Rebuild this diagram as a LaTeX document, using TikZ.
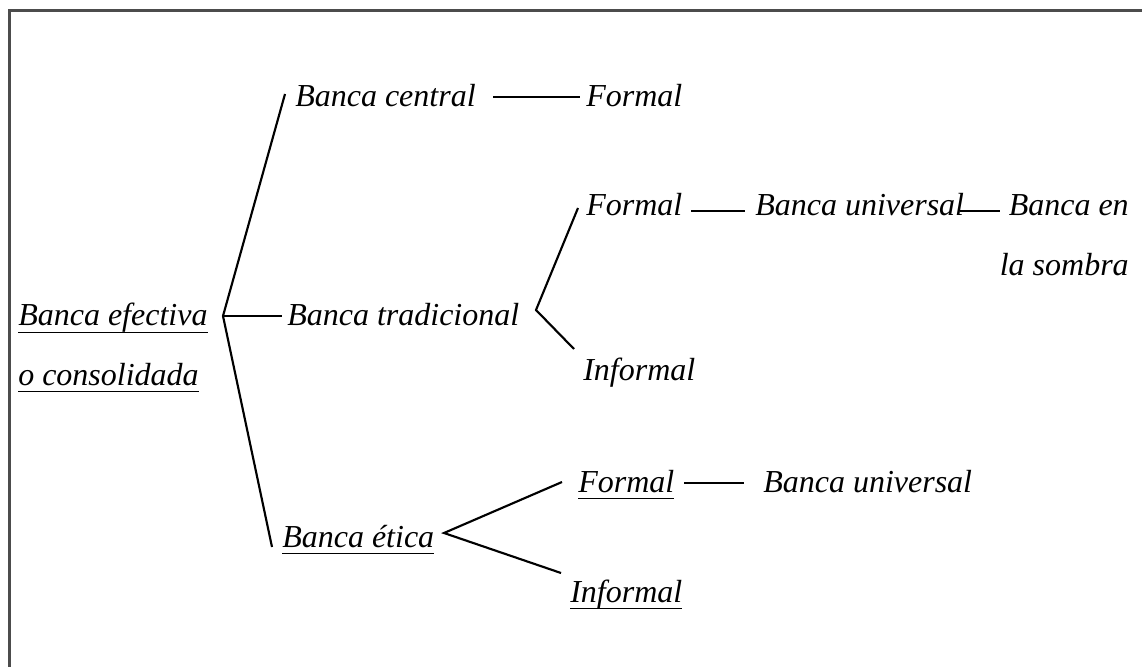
\documentclass[tikz,border=0pt]{standalone}
\usepackage{fontspec}
\setmainfont{Liberation Serif}
\newcommand\myul[1]{\setbox0\hbox{#1}\rlap{\rule[-5.6pt]{\wd0}{1.2pt}}\box0}
\tikzset{
  lbl/.style={inner sep=0pt, font=\fontsize{24}{44.5}\selectfont\itshape},
  conn/.style={line width=1.6pt, black},
  frame/.style={line width=1.8pt, black!70}
}
\begin{document}
\begin{tikzpicture}[x=0.75pt,y=-0.75pt]
\useasboundingbox (0,0) rectangle (1142,667);
\draw[frame] (9.5,667) -- (9.5,10.5) -- (1142,10.5);
% nodes
\node[lbl,anchor=base west,align=left] (root) at (18,385) {\myul{Banca efectiva}\\\myul{o consolidada}};
\node[lbl,anchor=base west] (central) at (295,106) {Banca central};
\node[lbl,anchor=base west] (cformal) at (586,106) {Formal};
\node[lbl,anchor=base west] (trad) at (287,325) {Banca tradicional};
\node[lbl,anchor=base west] (tformal) at (586,215) {Formal};
\node[lbl,anchor=base west] (tuniv) at (755,215) {Banca universal};
\node[lbl,anchor=base east,align=right] (sombra) at (1129,275) {Banca en\\la sombra};
\node[lbl,anchor=base west] (tinformal) at (583,380) {Informal};
\node[lbl,anchor=base west] (etica) at (282,547) {\myul{Banca ética}};
\node[lbl,anchor=base west] (eformal) at (578,492) {\myul{Formal}};
\node[lbl,anchor=base west] (euniv) at (763,492) {Banca universal};
\node[lbl,anchor=base west] (einformal) at (570,602) {\myul{Informal}};
% connector points
\coordinate (j0) at (223,316);
\coordinate (pc) at (285,94);
\coordinate (pt) at (282,316);
\coordinate (pe) at (272,547);
\coordinate (c1) at (493,97);
\coordinate (c2) at (580,97);
\coordinate (j1) at (536,310);
\coordinate (t1) at (578,208);
\coordinate (t2) at (574,349);
\coordinate (u1) at (691,211);
\coordinate (u2) at (745,211);
\coordinate (s1) at (960,211);
\coordinate (s2) at (1000,211);
\coordinate (j2) at (444,533);
\coordinate (e1) at (562,482);
\coordinate (e2) at (561,573);
\coordinate (f1) at (684,483);
\coordinate (f2) at (744,483);
% connectors
\draw[conn] (pc) -- (j0) -- (pe);
\draw[conn] (j0) -- (pt);
\draw[conn] (c1) -- (c2);
\draw[conn] (t1) -- (j1) -- (t2);
\draw[conn] (u1) -- (u2);
\draw[conn] (s1) -- (s2);
\draw[conn] (e1) -- (j2) -- (e2);
\draw[conn] (f1) -- (f2);
\end{tikzpicture}
\end{document}
